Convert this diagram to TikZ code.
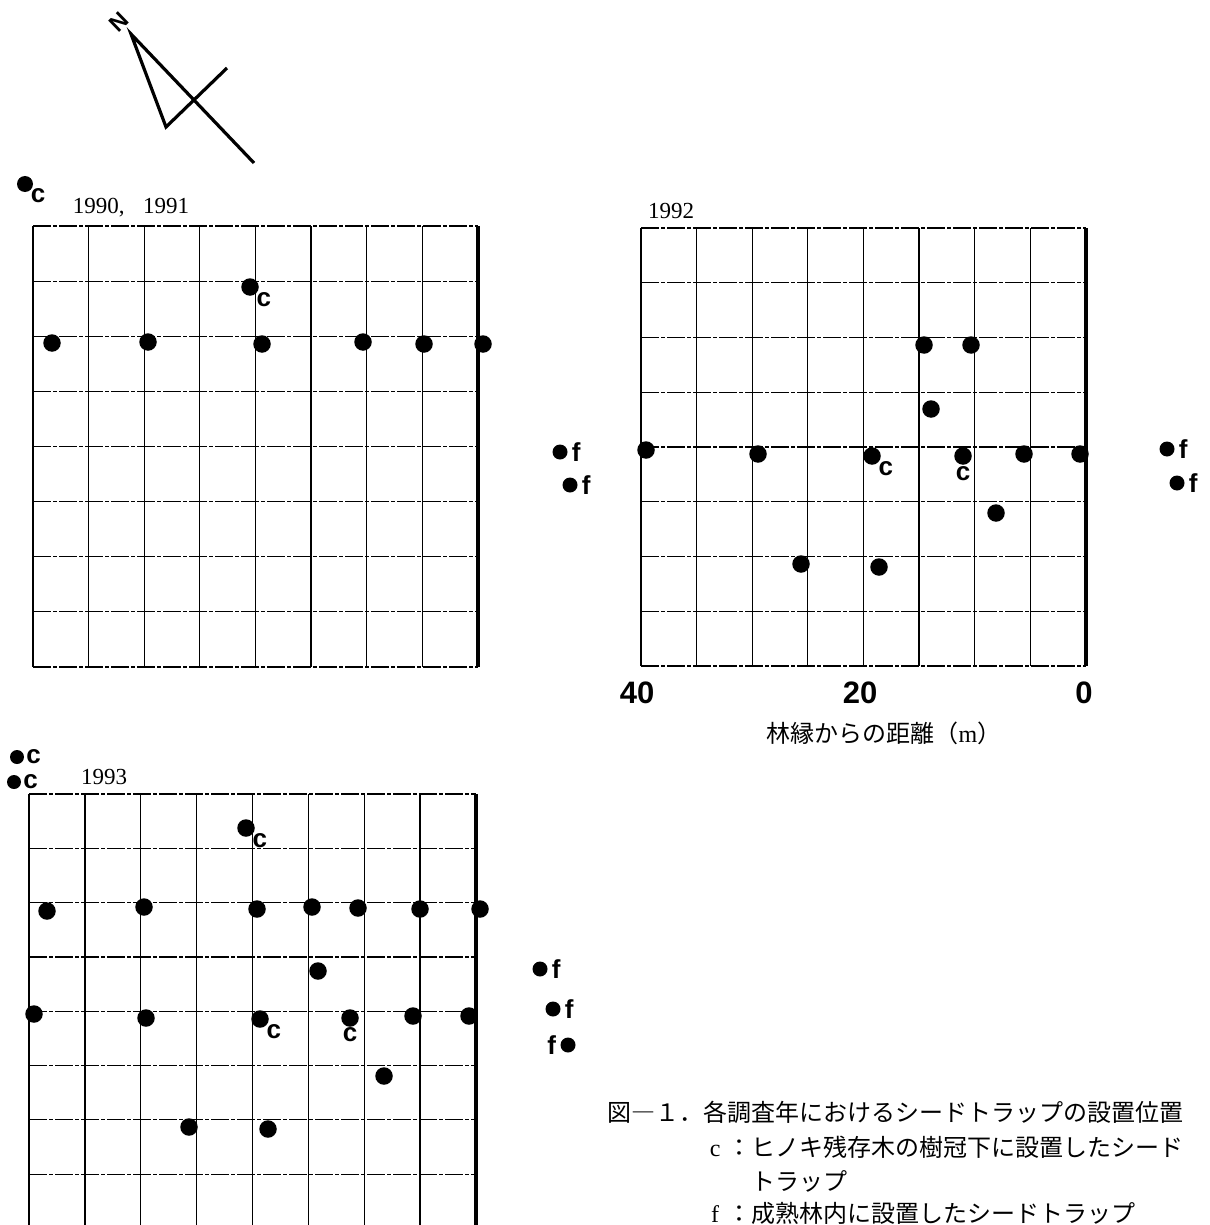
\documentclass[tikz,border=0pt]{standalone}
\usepackage{fontspec}
\setmainfont{Liberation Serif}
\setsansfont{Liberation Sans}
\newfontfamily\jpfont{Noto Sans CJK JP}
\usetikzlibrary{positioning}

\begin{document}
\begin{tikzpicture}[x=1pt, y=-1pt,
  trap/.style={circle, fill=black, inner sep=0pt, minimum size=#1},
  trap/.default=17.5pt,
  lab/.style={inner sep=0pt, font=\sffamily\bfseries\fontsize{26}{26}\selectfont},
  num/.style={inner sep=0pt, font=\sffamily\bfseries\fontsize{31}{31}\selectfont},
  year/.style={inner sep=0pt, font=\fontsize{23}{23}\selectfont},
  jp/.style={inner sep=0pt, font=\jpfont\fontsize{24}{24}\selectfont},
  vline/.style={line width=1.3pt},
  hline/.style={line width=1.2pt, dash pattern=on 18pt off 2pt on 4pt off 2pt},
  edgeline/.style={line width=4pt}
]
  \fill[white] (0,0) rectangle (1209,1225);
  \useasboundingbox (0,0) rectangle (1209,1225);

  % north arrow
  \coordinate (apex) at (131,34);
  \coordinate (foot) at (166,127);
  \coordinate (arm) at (227,68);
  \coordinate (tail) at (254,163);
  \draw[line width=3.2pt] (arm) -- (foot) -- (apex) -- (tail);
  \node[inner sep=0pt, rotate=44, font=\sffamily\bfseries\fontsize{23}{23}\selectfont] (north) at (119,22) {N};

  % grid 1990, 1991
  \begin{scope}[shift={(33,226)}]
    \foreach \i in {0,...,8} \draw[vline] (\i*55.6,0) -- (\i*55.6,441);
    \foreach \j in {0,...,8} \draw[hline] (0,\j*55.125) -- (445,\j*55.125);
    \draw[edgeline] (445,0) -- (445,441);
  \end{scope}
  \node[year] (y1) at (131,208) {1990,\hspace{0.8em}1991};

  \node[trap] (a1) at (52,343) {};
  \node[trap] (a2) at (148,342) {};
  \node[trap] (a3) at (262,344) {};
  \node[trap] (a4) at (363,342) {};
  \node[trap] (a5) at (424,344) {};
  \node[trap] (a6) at (483,344) {};
  \node[trap] (a7) at (250,287) {};
  \node[lab, below right=-1pt and 0pt of a7] (a7l) {c};
  \node[trap=16pt] (a8) at (25,184) {};
  \node[lab, below right=-1pt and 0pt of a8] (a8l) {c};
  \node[trap=15pt] (a9) at (560,452) {};
  \node[lab, right=4pt of a9] (a9l) {f};
  \node[trap=15pt] (a10) at (570,485) {};
  \node[lab, right=4pt of a10] (a10l) {f};

  % grid 1992
  \begin{scope}[shift={(641,228)}]
    \foreach \i in {0,...,8} \draw[vline] (\i*55.6,0) -- (\i*55.6,438);
    \foreach \j in {0,...,8} \draw[hline] (0,\j*54.75) -- (445,\j*54.75);
    \draw[edgeline] (445,0) -- (445,438);
  \end{scope}
  \node[year] (y2) at (671,211) {1992};

  \node[trap] (b1) at (646,450) {};
  \node[trap] (b2) at (758,454) {};
  \node[trap] (b3) at (872,456) {};
  \node[lab, below right=-1pt and 0pt of b3] (b3l) {c};
  \node[trap] (b4) at (924,345) {};
  \node[trap] (b5) at (971,345) {};
  \node[trap] (b6) at (931,409) {};
  \node[trap] (b7) at (963,456) {};
  \node[lab, below=1pt of b7] (b7l) {c};
  \node[trap] (b8) at (1024,454) {};
  \node[trap] (b9) at (1080,454) {};
  \node[trap] (b10) at (996,513) {};
  \node[trap] (b11) at (801,564) {};
  \node[trap] (b12) at (879,567) {};
  \node[trap=15pt] (b13) at (1167,449) {};
  \node[lab, right=4pt of b13] (b13l) {f};
  \node[trap=15pt] (b14) at (1177,483) {};
  \node[lab, right=4pt of b14] (b14l) {f};

  \node[num] (x40) at (637,693) {40};
  \node[num] (x20) at (860,693) {20};
  \node[num] (x0) at (1084,693) {0};
  \node[jp] (xlab) at (884,733) {林縁からの距離（{\rmfamily m}）};

  % grid 1993
  \begin{scope}[shift={(29,794)}]
    \foreach \i in {0,...,8} \draw[vline] (\i*55.875,0) -- (\i*55.875,431);
    \foreach \j in {0,...,7} \draw[hline] (0,\j*54.3) -- (447,\j*54.3);
    \draw[edgeline] (447,0) -- (447,431);
  \end{scope}
  \node[year] (y3) at (104,777) {1993};

  \node[trap] (d1) at (246,828) {};
  \node[lab, below right=-1pt and 0pt of d1] (d1l) {c};
  \node[trap] (d2) at (47,911) {};
  \node[trap] (d3) at (144,907) {};
  \node[trap] (d4) at (257,909) {};
  \node[trap] (d5) at (312,907) {};
  \node[trap] (d6) at (358,908) {};
  \node[trap] (d7) at (420,909) {};
  \node[trap] (d8) at (480,909) {};
  \node[trap] (d9) at (318,971) {};
  \node[trap] (d10) at (34,1014) {};
  \node[trap] (d11) at (146,1018) {};
  \node[trap] (d12) at (260,1019) {};
  \node[lab, below right=-1pt and 0pt of d12] (d12l) {c};
  \node[trap] (d13) at (350,1018) {};
  \node[lab, below=0pt of d13] (d13l) {c};
  \node[trap] (d14) at (413,1016) {};
  \node[trap] (d15) at (469,1016) {};
  \node[trap] (d16) at (384,1076) {};
  \node[trap] (d17) at (189,1127) {};
  \node[trap] (d18) at (268,1129) {};
  \node[trap=14pt] (d19) at (17,757) {};
  \node[lab, right=2pt of d19] (d19l) {c};
  \node[trap=14pt] (d20) at (14,782) {};
  \node[lab, right=2pt of d20] (d20l) {c};
  \node[trap=15pt] (d21) at (540,969) {};
  \node[lab, right=4pt of d21] (d21l) {f};
  \node[trap=15pt] (d22) at (553,1009) {};
  \node[lab, right=4pt of d22] (d22l) {f};
  \node[trap=15pt] (d23) at (568,1045) {};
  \node[lab, left=4pt of d23] (d23l) {f};

  % caption
  \node[jp, anchor=west] (cap1) at (607,1112) {図―１．各調査年におけるシードトラップの設置位置};
  \node[jp, anchor=west] (cap2) at (703,1147) {\makebox[1em]{\rmfamily c}：ヒノキ残存木の樹冠下に設置したシード};
  \node[jp, anchor=west] (cap3) at (751,1181) {トラップ};
  \node[jp, anchor=west] (cap4) at (703,1213) {\makebox[1em]{\rmfamily f}：成熟林内に設置したシードトラップ};
\end{tikzpicture}
\end{document}
